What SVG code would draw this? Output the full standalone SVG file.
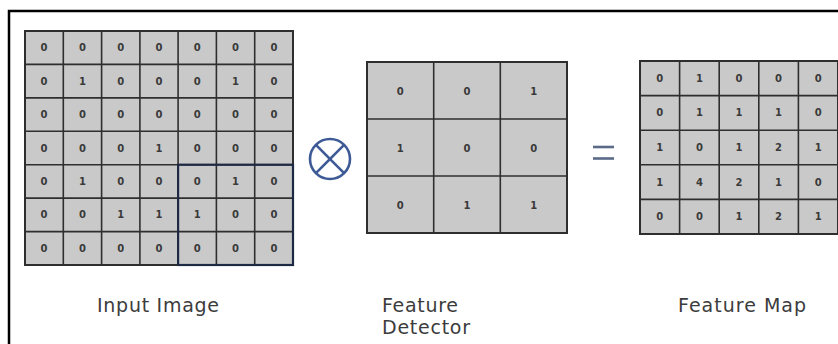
<svg xmlns="http://www.w3.org/2000/svg" width="838" height="344" viewBox="0 0 838 344">
<style>
.cell{fill:#c9c9c9;stroke:none}
.frame{fill:none;stroke:#2e2e2e;stroke-width:2}
.grid{stroke:#2e2e2e;stroke-width:1.6}
.num{font-family:"DejaVu Sans",sans-serif;font-size:10px;font-weight:bold;fill:#3a3a3a;text-anchor:middle;dominant-baseline:central}
.label{font-family:"DejaVu Sans",sans-serif;font-size:19px;fill:#3c3c3c}
.op{fill:none;stroke:#3d5a96;stroke-width:2.6}
</style>
<rect x="0" y="0" width="838" height="344" fill="#ffffff"/>
<path d="M9,344 V11 H838" fill="none" stroke="#000" stroke-width="2.5"/>

<g id="input-image">
<rect class="cell" x="25" y="31" width="268" height="234"/>
<g class="grid">
<line x1="63.3" y1="31" x2="63.3" y2="265"/><line x1="101.6" y1="31" x2="101.6" y2="265"/><line x1="139.9" y1="31" x2="139.9" y2="265"/><line x1="178.1" y1="31" x2="178.1" y2="265"/><line x1="216.4" y1="31" x2="216.4" y2="265"/><line x1="254.7" y1="31" x2="254.7" y2="265"/>
<line x1="25" y1="64.4" x2="293" y2="64.4"/><line x1="25" y1="97.9" x2="293" y2="97.9"/><line x1="25" y1="131.3" x2="293" y2="131.3"/><line x1="25" y1="164.7" x2="293" y2="164.7"/><line x1="25" y1="198.1" x2="293" y2="198.1"/><line x1="25" y1="231.6" x2="293" y2="231.6"/>
</g>
<rect class="frame" x="25" y="31" width="268" height="234"/>
<rect x="178.1" y="164.7" width="114.9" height="100.3" fill="none" stroke="#1e2a44" stroke-width="2.2"/>
<g class="num">
<text x="44.1" y="47.7">0</text><text x="82.4" y="47.7">0</text><text x="120.7" y="47.7">0</text><text x="159" y="47.7">0</text><text x="197.3" y="47.7">0</text><text x="235.6" y="47.7">0</text><text x="273.9" y="47.7">0</text>
<text x="44.1" y="81.1">0</text><text x="82.4" y="81.1">1</text><text x="120.7" y="81.1">0</text><text x="159" y="81.1">0</text><text x="197.3" y="81.1">0</text><text x="235.6" y="81.1">1</text><text x="273.9" y="81.1">0</text>
<text x="44.1" y="114.6">0</text><text x="82.4" y="114.6">0</text><text x="120.7" y="114.6">0</text><text x="159" y="114.6">0</text><text x="197.3" y="114.6">0</text><text x="235.6" y="114.6">0</text><text x="273.9" y="114.6">0</text>
<text x="44.1" y="148">0</text><text x="82.4" y="148">0</text><text x="120.7" y="148">0</text><text x="159" y="148">1</text><text x="197.3" y="148">0</text><text x="235.6" y="148">0</text><text x="273.9" y="148">0</text>
<text x="44.1" y="181.4">0</text><text x="82.4" y="181.4">1</text><text x="120.7" y="181.4">0</text><text x="159" y="181.4">0</text><text x="197.3" y="181.4">0</text><text x="235.6" y="181.4">1</text><text x="273.9" y="181.4">0</text>
<text x="44.1" y="214.9">0</text><text x="82.4" y="214.9">0</text><text x="120.7" y="214.9">1</text><text x="159" y="214.9">1</text><text x="197.3" y="214.9">1</text><text x="235.6" y="214.9">0</text><text x="273.9" y="214.9">0</text>
<text x="44.1" y="248.3">0</text><text x="82.4" y="248.3">0</text><text x="120.7" y="248.3">0</text><text x="159" y="248.3">0</text><text x="197.3" y="248.3">0</text><text x="235.6" y="248.3">0</text><text x="273.9" y="248.3">0</text>
</g>
</g>

<g id="convolve-operator">
<circle class="op" cx="330" cy="159" r="20"/>
<line class="op" x1="315.9" y1="144.9" x2="344.1" y2="173.1"/>
<line class="op" x1="344.1" y1="144.9" x2="315.9" y2="173.1"/>
</g>

<g id="feature-detector">
<rect class="cell" x="367" y="62" width="200" height="171"/>
<g class="grid">
<line x1="433.7" y1="62" x2="433.7" y2="233"/><line x1="500.3" y1="62" x2="500.3" y2="233"/>
<line x1="367" y1="119" x2="567" y2="119"/><line x1="367" y1="176" x2="567" y2="176"/>
</g>
<rect class="frame" x="367" y="62" width="200" height="171"/>
<g class="num">
<text x="400.3" y="91">0</text><text x="467" y="91">0</text><text x="533.7" y="91">1</text>
<text x="400.3" y="148">1</text><text x="467" y="148">0</text><text x="533.7" y="148">0</text>
<text x="400.3" y="205">0</text><text x="467" y="205">1</text><text x="533.7" y="205">1</text>
</g>
</g>

<g id="equals-operator">
<line x1="593" y1="147" x2="614" y2="147" stroke="#5a6a88" stroke-width="2.6"/>
<line x1="593" y1="158.5" x2="614" y2="158.5" stroke="#5a6a88" stroke-width="2.6"/>
</g>

<g id="feature-map">
<rect class="cell" x="640" y="61" width="198" height="173"/>
<g class="grid">
<line x1="679.6" y1="61" x2="679.6" y2="234"/><line x1="719.2" y1="61" x2="719.2" y2="234"/><line x1="758.8" y1="61" x2="758.8" y2="234"/><line x1="798.4" y1="61" x2="798.4" y2="234"/>
<line x1="640" y1="95.6" x2="838" y2="95.6"/><line x1="640" y1="130.2" x2="838" y2="130.2"/><line x1="640" y1="164.8" x2="838" y2="164.8"/><line x1="640" y1="199.4" x2="838" y2="199.4"/>
</g>
<rect class="frame" x="640" y="61" width="198" height="173"/>
<g class="num">
<text x="659.8" y="78.3">0</text><text x="699.4" y="78.3">1</text><text x="739" y="78.3">0</text><text x="778.6" y="78.3">0</text><text x="818.2" y="78.3">0</text>
<text x="659.8" y="112.9">0</text><text x="699.4" y="112.9">1</text><text x="739" y="112.9">1</text><text x="778.6" y="112.9">1</text><text x="818.2" y="112.9">0</text>
<text x="659.8" y="147.5">1</text><text x="699.4" y="147.5">0</text><text x="739" y="147.5">1</text><text x="778.6" y="147.5">2</text><text x="818.2" y="147.5">1</text>
<text x="659.8" y="182.1">1</text><text x="699.4" y="182.1">4</text><text x="739" y="182.1">2</text><text x="778.6" y="182.1">1</text><text x="818.2" y="182.1">0</text>
<text x="659.8" y="216.7">0</text><text x="699.4" y="216.7">0</text><text x="739" y="216.7">1</text><text x="778.6" y="216.7">2</text><text x="818.2" y="216.7">1</text>
</g>
</g>

<g id="labels">
<text class="label" x="97" y="312" textLength="122" lengthAdjust="spacing">Input Image</text>
<text class="label" x="382" y="312" textLength="76" lengthAdjust="spacing">Feature</text>
<text class="label" x="382" y="334" textLength="88" lengthAdjust="spacing">Detector</text>
<text class="label" x="678" y="312" textLength="128" lengthAdjust="spacing">Feature Map</text>
</g>
</svg>
